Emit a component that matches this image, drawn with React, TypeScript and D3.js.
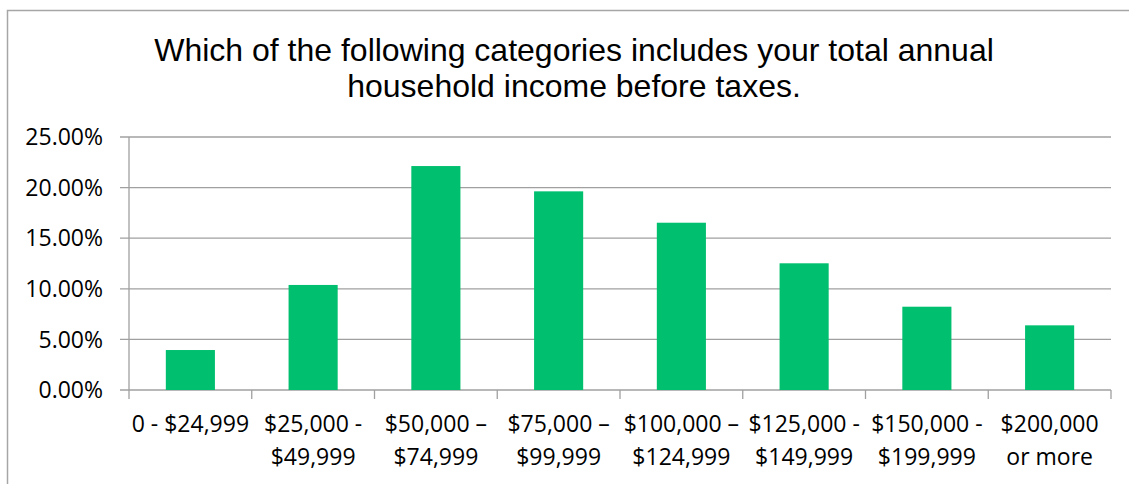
import React from "react";
import * as d3 from "d3";

const titleLines = [
  "Which of the following categories includes your total annual",
  "household income before taxes.",
];
const categories = [
  ["0 - $24,999"],
  ["$25,000 -", "$49,999"],
  ["$50,000 –", "$74,999"],
  ["$75,000 –", "$99,999"],
  ["$100,000 –", "$124,999"],
  ["$125,000 -", "$149,999"],
  ["$150,000 -", "$199,999"],
  ["$200,000", "or more"],
];
const values = [0.0395, 0.1038, 0.2213, 0.1963, 0.1653, 0.1252, 0.0823, 0.0639];
const yTicks = [0, 0.05, 0.1, 0.15, 0.2, 0.25];

const W = 1129;
const H = 484;
const left = 129;
const right = 1111;
const top = 137;
const bottom = 390;
const barColor = "#00BF6F";
const gridColor = "#A0A0A0";
const tickFont = "'Open Sans', sans-serif";

export default function App() {
  const x = d3
    .scaleBand<number>()
    .domain(d3.range(categories.length))
    .range([left, right])
    .paddingInner(0.6)
    .paddingOuter(0.3);
  const y = d3.scaleLinear().domain([0, 0.25]).range([bottom, top]);
  const step = (right - left) / categories.length;
  const fmt = d3.format(".2%");

  return (
    <svg
      width={W}
      height={H}
      style={{ position: "absolute", left: 0, top: 0, display: "block" }}
    >
      <rect x={0} y={0} width={W} height={H} fill="#fff" />
      <path
        d={`M${W + 5},10.5 H7.5 V${H + 5}`}
        fill="none"
        stroke="#A6A6A6"
        strokeWidth={1.5}
      />
      {titleLines.map((t, i) => (
        <text
          key={i}
          x={574}
          y={61 + i * 36}
          textAnchor="middle"
          fontFamily="'Liberation Sans', Arial, sans-serif"
          fontSize={32}
          fill="#000"
        >
          {t}
        </text>
      ))}
      {yTicks.map((t) => (
        <g key={t}>
          <line
            x1={left - 9}
            x2={right}
            y1={y(t)}
            y2={y(t)}
            stroke={gridColor}
            strokeWidth={1.3}
          />
          <text
            x={103}
            y={y(t)}
            dy="0.36em"
            textAnchor="end"
            fontFamily={tickFont}
            fontSize={23}
            fill="#000"
          >
            {fmt(t)}
          </text>
        </g>
      ))}
      <line x1={left} x2={left} y1={top} y2={bottom} stroke={gridColor} strokeWidth={1.3} />
      {d3.range(categories.length + 1).map((i) => (
        <line
          key={i}
          x1={left + i * step}
          x2={left + i * step}
          y1={bottom}
          y2={bottom + 9}
          stroke={gridColor}
          strokeWidth={1.3}
        />
      ))}
      {values.map((v, i) => (
        <rect
          key={i}
          x={x(i)}
          y={y(v)}
          width={x.bandwidth()}
          height={bottom - y(v)}
          fill={barColor}
        />
      ))}
      {categories.map((lines, i) => (
        <text
          key={i}
          textAnchor="middle"
          fontFamily={tickFont}
          fontSize={23}
          fill="#000"
        >
          {lines.map((l, j) => (
            <tspan key={j} x={(x(i) as number) + x.bandwidth() / 2} y={432 + j * 33}>
              {l}
            </tspan>
          ))}
        </text>
      ))}
    </svg>
  );
}
